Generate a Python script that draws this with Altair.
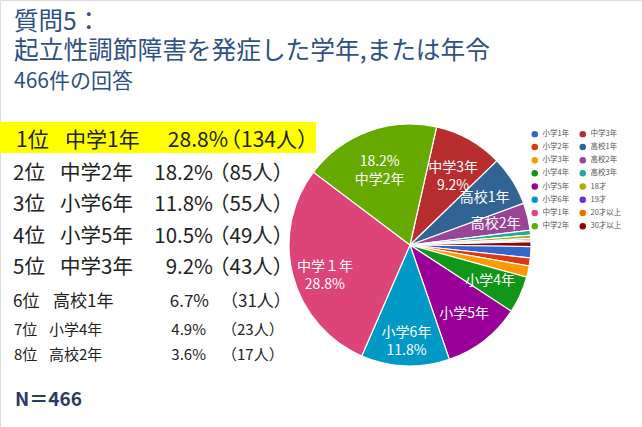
import math
import altair as alt
import pandas as pd

FONT = "Noto Sans CJK JP"

# ---- pie data (clockwise from the top) ----
categories = ["中学3年", "高校1年", "高校2年", "高校3年", "18才", "19才", "20才以上", "30才以上",
              "小学1年", "小学2年", "小学3年", "小学4年", "小学5年", "小学6年", "中学1年", "中学2年"]
counts = [43, 31, 17, 3, 2, 1, 1, 3, 7, 5, 7, 23, 49, 55, 134, 85]
pie_labels = ["中学3年\n9.2%", "高校1年", "高校2年", "", "", "", "", "",
              "", "", "", "小学4年", "小学5年", "小学6年\n11.8%", "中学１年\n28.8%", "18.2%\n中学2年"]

# ---- legend (Google palette) ----
legend_order = ["小学1年", "小学2年", "小学3年", "小学4年", "小学5年", "小学6年", "中学1年", "中学2年",
                "中学3年", "高校1年", "高校2年", "高校3年", "18才", "19才", "20才以上", "30才以上"]
legend_colors = ["#3366CC", "#DC3912", "#FF9900", "#109618", "#990099", "#0099C6", "#DD4477", "#66AA00",
                 "#B82E2E", "#316395", "#994499", "#22AA99", "#AAAA11", "#6633CC", "#E67300", "#8B0707"]

# ---- ranking table ----
ranks = [1, 2, 3, 4, 5, 6, 7, 8]
rank_names = ["中学1年", "中学2年", "小学6年", "小学5年", "中学3年", "高校1年", "小学4年", "高校2年"]
rank_pcts = ["28.8%", "18.2%", "11.8%", "10.5%", "9.2%", "6.7%", "4.9%", "3.6%"]
rank_counts = [134, 85, 55, 49, 43, 31, 23, 17]

title_line1 = "質問5："
title_line2 = "起立性調節障害を発症した学年,または年令"
subtitle = "466件の回答"
n_label = "N＝466"

pie_df = pd.DataFrame({"cat": categories, "count": counts, "label": pie_labels,
                       "idx": list(range(len(categories)))})

start = 12.7 * math.pi / 180
theta_scale = alt.Scale(range=[start, start + 2 * math.pi])

arc = alt.Chart(pie_df).mark_arc(radius=121, stroke="white", strokeWidth=1.2).encode(
    theta=alt.Theta("count:Q", stack=True, scale=theta_scale),
    color=alt.Color("cat:N", scale=alt.Scale(domain=legend_order, range=legend_colors),
                    legend=alt.Legend(title=None, orient="none", legendX=531, legendY=130,
                                      columns=2, symbolType="circle", symbolSize=42,
                                      labelFont=FONT, labelFontSize=7.5, labelColor="#555555",
                                      rowPadding=4.2, columnPadding=9, labelOffset=4,
                                      symbolStrokeWidth=0)),
    order=alt.Order("idx:Q"),
    x=alt.value(410), y=alt.value(245),
)

pie_text = alt.Chart(pie_df).mark_text(radius=88, fontSize=14, font=FONT, color="white",
                                       lineBreak="\n", lineHeight=18,
                                       align="center", baseline="middle").encode(
    theta=alt.Theta("count:Q", stack=True, scale=theta_scale),
    order=alt.Order("idx:Q"),
    text="label:N",
    x=alt.value(410), y=alt.value(245),
)

rank_df = pd.DataFrame({
    "rank": ranks,
    "rlab": [f"{r}位" for r in ranks],
    "name": rank_names,
    "pct": rank_pcts,
    "cnt": [f"（{c}人）" for c in rank_counts],
})

yscale = alt.Scale(domain=[1, 2, 5, 6, 7, 8], range=[141, 173.5, 268, 302, 330, 355],
                   zero=False, nice=False)


def col(df, field, x, align, fs):
    return alt.Chart(df).mark_text(align=align, baseline="middle", fontSize=fs, font=FONT,
                                   color="#222222").encode(
        x=alt.value(x), y=alt.Y("rank:Q", scale=yscale, axis=None), text=f"{field}:N")


g1 = rank_df[rank_df["rank"] == 1]
g2 = rank_df[(rank_df["rank"] >= 2) & (rank_df["rank"] <= 5)]
g3 = rank_df[rank_df["rank"] == 6]
g4 = rank_df[rank_df["rank"] >= 7]

layers_rank = []
for df, fs, xr, xn, xp, xc in [
    (g1, 21, 16, 65, 228, 220),
    (g2, 20.5, 13, 60, 213, 209),
    (g3, 17, 13, 53, 209, 221),
    (g4, 15, 14, 49, 206, 222),
]:
    layers_rank += [col(df, "rlab", xr, "left", fs), col(df, "name", xn, "left", fs),
                    col(df, "pct", xp, "right", fs), col(df, "cnt", xc, "left", fs)]

one = pd.DataFrame({"a": [0]})
highlight = alt.Chart(one).mark_rect(color="#FFFF00").encode(
    x=alt.value(0), x2=alt.value(316), y=alt.value(122), y2=alt.value(153))


def label(text, x, y, fs, color, weight="normal"):
    return alt.Chart(one).mark_text(text=text, align="left", baseline="middle", fontSize=fs,
                                    font=FONT, color=color, fontWeight=weight).encode(
        x=alt.value(x), y=alt.value(y))


t1 = label(title_line1, 14, 23, 24.5, "#2F4F86")
t2 = label(title_line2, 14, 52, 24.7, "#2F4F86")
t3 = label(subtitle, 14, 82, 21, "#2F4F86")
tn = label(n_label, 15, 400, 19, "#2B3A64", "bold")

chart = alt.layer(highlight, arc, pie_text, t1, t2, t3, tn, *layers_rank).properties(
    width=642, height=427, autosize="none", padding=0,
).configure_view(stroke=None).configure(background="white")

chart.save("out.html", embed_options={"renderer": "svg", "actions": False})
